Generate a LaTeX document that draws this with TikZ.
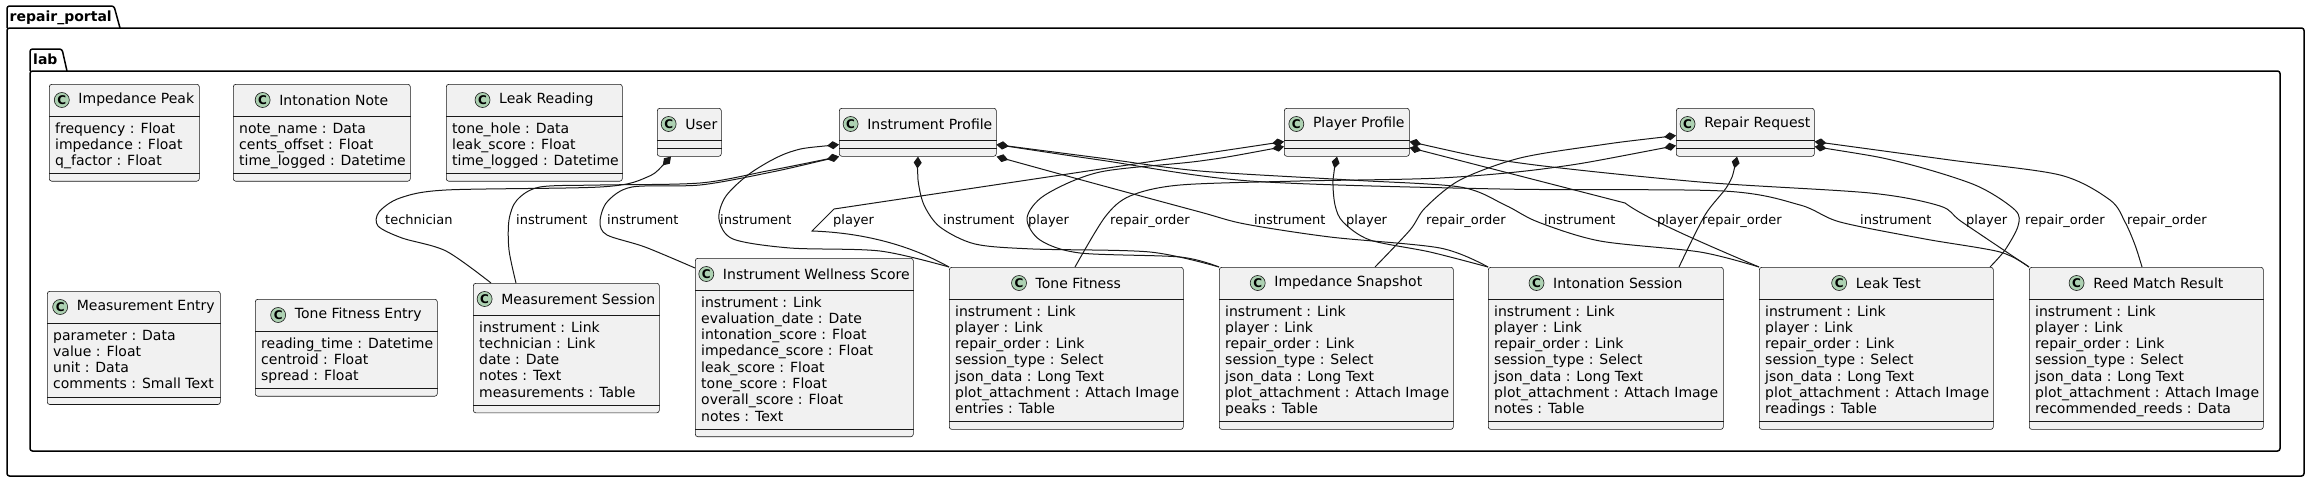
\documentclass[tikz,border=0pt]{standalone}
\usepackage{fontspec}
\setmainfont{DejaVu Sans}
\usetikzlibrary{arrows.meta,calc}
\definecolor{boxfill}{HTML}{F1F1F1}
\definecolor{boxline}{HTML}{181818}
\definecolor{spotfill}{HTML}{ADD1B2}
\tikzset{
  clsbox/.style={draw=boxline, fill=boxfill, line width=0.6pt, rounded corners=2.5pt, inner sep=0},
  clsdiv/.style={draw=boxline, line width=0.6pt},
  clstitle/.style={inner sep=0, font=\fontsize{14}{16}\selectfont},
  spot/.style={circle, draw=boxline, line width=0.6pt, fill=spotfill, minimum size=15pt, inner sep=0, font=\bfseries\fontsize{12}{12}\selectfont},
  field/.style={anchor=base west, inner sep=0, font=\fontsize{14}{16}\selectfont},
  lbl/.style={anchor=base west, inner sep=0, font=\fontsize{13}{15}\selectfont},
  pkg/.style={draw=black, line width=1.5pt, rounded corners=2.5pt},
  pkgtitle/.style={anchor=base west, inner sep=0, font=\bfseries\fontsize{14}{16}\selectfont},
  comp/.style={draw=boxline, line width=1pt, {Diamond[length=12pt,width=8pt]}-},
}
\newcommand\umlclass[7]{%
  \pgfmathsetmacro\clsh{48+16.3*#5}%
  \node[clsbox, minimum width=#4pt, minimum height=\clsh pt, anchor=north west] (#1) at (#2,#3) {};
  \draw[clsdiv] ($(#1.north west)+(0,32)$) -- ($(#1.north east)+(0,32)$);
  \draw[clsdiv] ($(#1.south west)+(0,-8)$) -- ($(#1.south east)+(0,-8)$);
  \node[clstitle] (#1-t) at ($(#1.north)+(12,16)$) {#6};
  \node[spot] (#1-c) at ($(#1-t.west)+(-16.5,0)$) {C};
  \ifnum#5>0
    \foreach \fld [count=\i from 0] in {#7} {\node[field] (#1-f\i) at ($(#1.north west)+(6,49+16.3*\i)$) {\fld};}
  \fi
}
\begin{document}
\begin{tikzpicture}[x=1pt,y=-1pt]
\useasboundingbox (0,0) rectangle (2309,482);
% packages
\draw[pkg] (7,28) -- (7,6) -- (114,6) -- (120,28);
\draw[pkg] (7,28) rectangle (2304,476);
\node[pkgtitle] (pkgouter) at (9.5,21.5) {repair\_portal};
\draw[pkg] (30,71) -- (30,49) -- (62,49) -- (67,71);
\draw[pkg] (30,71) rectangle (2280,451);
\node[pkgtitle] (pkglab) at (33,64.5) {lab};
% classes
\umlclass{impeak}{49}{84}{150}{3}{Impedance Peak}{frequency : Float, impedance : Float, q\_factor : Float}
\umlclass{intnote}{233}{84}{177}{3}{Intonation Note}{note\_name : Data, cents\_offset : Float, time\_logged : Datetime}
\umlclass{leakread}{446}{84}{176}{3}{Leak Reading}{tone\_hole : Data, leak\_score : Float, time\_logged : Datetime}
\umlclass{user}{657}{108}{64}{0}{User}{}
\umlclass{ip}{839}{108}{157}{0}{Instrument Profile}{}
\umlclass{pp}{1284}{108}{125}{0}{Player Profile}{}
\umlclass{rr}{1676}{108}{138}{0}{Repair Request}{}
\umlclass{mentry}{47}{291}{173}{4}{Measurement Entry}{parameter : Data, value : Float, unit : Data, comments : Small Text}
\umlclass{tfentry}{255}{299}{182}{3}{Tone Fitness Entry}{reading\_time : Datetime, centroid : Float, spread : Float}
\umlclass{msess}{473}{283}{186}{5}{Measurement Session}{instrument : Link, technician : Link, date : Date, notes : Text, measurements : Table}
\umlclass{iws}{695}{258}{218}{8}{Instrument Wellness Score}{instrument : Link, evaluation\_date : Date, intonation\_score : Float, impedance\_score : Float, leak\_score : Float, tone\_score : Float, overall\_score : Float, notes : Text}
\umlclass{tf}{949}{267}{234}{7}{Tone Fitness}{instrument : Link, player : Link, repair\_order : Link, session\_type : Select, json\_data : Long Text, plot\_attachment : Attach Image, entries : Table}
\umlclass{isnap}{1219}{267}{234}{7}{Impedance Snapshot}{instrument : Link, player : Link, repair\_order : Link, session\_type : Select, json\_data : Long Text, plot\_attachment : Attach Image, peaks : Table}
\umlclass{isess}{1488}{267}{235}{7}{Intonation Session}{instrument : Link, player : Link, repair\_order : Link, session\_type : Select, json\_data : Long Text, plot\_attachment : Attach Image, notes : Table}
\umlclass{leak}{1759}{267}{234}{7}{Leak Test}{instrument : Link, player : Link, repair\_order : Link, session\_type : Select, json\_data : Long Text, plot\_attachment : Attach Image, readings : Table}
\umlclass{reed}{2029}{267}{234}{7}{Reed Match Result}{instrument : Link, player : Link, repair\_order : Link, session\_type : Select, json\_data : Long Text, plot\_attachment : Attach Image, recommended\_reeds : Data}
% connector end points
\coordinate (us) at ($(user.south west)+(14,0)$);
\coordinate (iplu) at ($(ip.south west)+(0,-12)$);
\coordinate (ipll) at (ip.south west);
\coordinate (ipb) at ($(ip.south west)+(79,0)$);
\coordinate (ipru) at ($(ip.south east)+(0,-12)$);
\coordinate (iprl) at (ip.south east);
\coordinate (pplu) at ($(pp.south west)+(0,-15)$);
\coordinate (ppll) at ($(pp.south west)+(0,-10)$);
\coordinate (ppb) at ($(pp.south west)+(53,0)$);
\coordinate (ppru) at ($(pp.south east)+(0,-15)$);
\coordinate (pprl) at ($(pp.south east)+(0,-9)$);
\coordinate (rrlu) at ($(rr.south west)+(0,-21)$);
\coordinate (rrll) at ($(rr.south west)+(0,-11)$);
\coordinate (rrb) at ($(rr.south west)+(61,0)$);
\coordinate (rrru) at ($(rr.south east)+(0,-15)$);
\coordinate (rrrl) at ($(rr.south east)+(0,-10)$);
\coordinate (msa) at ($(msess.north west)+(18,0)$);
\coordinate (msb) at ($(msess.north west)+(43,0)$);
\coordinate (iwsa) at ($(iws.north west)+(0,10)$);
\coordinate (tfr) at ($(tf.north west)+(126,0)$);
\coordinate (isnapr) at ($(isnap.north west)+(156,0)$);
\coordinate (isessr) at ($(isess.north west)+(191,0)$);
\coordinate (leakr) at ($(leak.north west)+(231,0)$);
\coordinate (reedr) at ($(reed.north west)+(113,0)$);
% connectors
\draw[comp] plot[smooth] coordinates {(us) (645,178) (600,187) (446,190) (400,198) (379,212) (378,226) (402,238) (446,251) (msa)};
\draw[comp] plot[smooth] coordinates {(ipll) (767,171) (700,183) (600,185) (540,187) (517,200) (509,220) (509,250) (msb)};
\draw[comp] plot[smooth] coordinates {(ipll) (767,173) (700,185) (632,187) (607,202) (600,222) (607,235) (645,247) (iwsa)};
\draw[comp] plot[smooth] coordinates {(iplu) (790,152) (752,172) (726,196) (719,219) (733,239) (790,248) (880,251) (tf.north west)};
\draw[comp] (pplu) -- (834,209) -- (812,231) .. controls (870,233) and (915,248) .. (tf.north west);
\draw[comp] plot[smooth] coordinates {(ipb) (918,180) (924,205) (940,227) (975,244) (1033,249) (1150,252) (isnap.north west)};
\draw[comp] plot[smooth] coordinates {(ppll) (1200,161) (1100,172) (1045,195) (1027,218) (1040,240) (1080,253) (1180,257) (isnap.north west)};
\draw[comp] plot[smooth] coordinates {(rrll) (1550,168) (1440,178) (1300,181) (1180,185) (1130,196) (1105,217) (tfr)};
\draw[comp] plot[smooth] coordinates {(iprl) (1100,185) (1200,212) (1245,224) (1330,237) (1440,248) (isess.north west)};
\draw[comp] plot[smooth] coordinates {(ppb) (1333,180) (1335,205) (1343,222) (1370,240) (1430,252) (isess.north west)};
\draw[comp] plot[smooth] coordinates {(rrlu) (1600,145) (1520,158) (1460,180) (1425,208) (1410,230) (isnapr)};
\draw[comp] plot[smooth] coordinates {(ipru) (1100,158) (1200,171) (1350,180) (1460,187) (1505,205) (1538,222) (1600,241) (1700,252) (leak.north west)};
\draw[comp] (pprl) -- (1625,203) .. controls (1645,218) and (1700,242) .. (leak.north west);
\draw[comp] plot[smooth] coordinates {(rrb) (1728,185) (1705,215) (isessr)};
\draw[comp] plot[smooth] coordinates {(ipru) (1100,160) (1250,181) (1500,189) (1723,191) (1800,205) (1840,222) (1925,239) (2000,252) (reed.north west)};
\draw[comp] plot[smooth] coordinates {(ppru) (1520,163) (1700,182) (1870,193) (1940,206) (1962,222) (reed.north west)};
\draw[comp] plot[smooth] coordinates {(rrrl) (1900,162) (1975,185) (2015,210) (2018,226) (2005,250) (leakr)};
\draw[comp] plot[smooth] coordinates {(rrru) (1950,160) (2060,175) (2110,200) (2125,222) (2135,245) (reedr)};
% labels
\node[lbl] (l1) at (385,224) {technician};
\node[lbl] (l2) at (516,224) {instrument};
\node[lbl] (l3) at (607,224) {instrument};
\node[lbl] (l4) at (720,224) {instrument};
\node[lbl] (l5) at (833,224) {player};
\node[lbl] (l6) at (943,224) {instrument};
\node[lbl] (l7) at (1028,224) {player};
\node[lbl] (l8) at (1110,224) {repair\_order};
\node[lbl] (l9) at (1254,224) {instrument};
\node[lbl] (l10) at (1346,224) {player};
\node[lbl] (l11) at (1426,224) {repair\_order};
\node[lbl] (l12) at (1544,224) {instrument};
\node[lbl] (l13) at (1657,224) {player};
\node[lbl] (l14) at (1702,224) {repair\_order};
\node[lbl] (l15) at (1860,224) {instrument};
\node[lbl] (l16) at (1966,224) {player};
\node[lbl] (l17) at (2025,224) {repair\_order};
\node[lbl] (l18) at (2127,224) {repair\_order};
\end{tikzpicture}
\end{document}
